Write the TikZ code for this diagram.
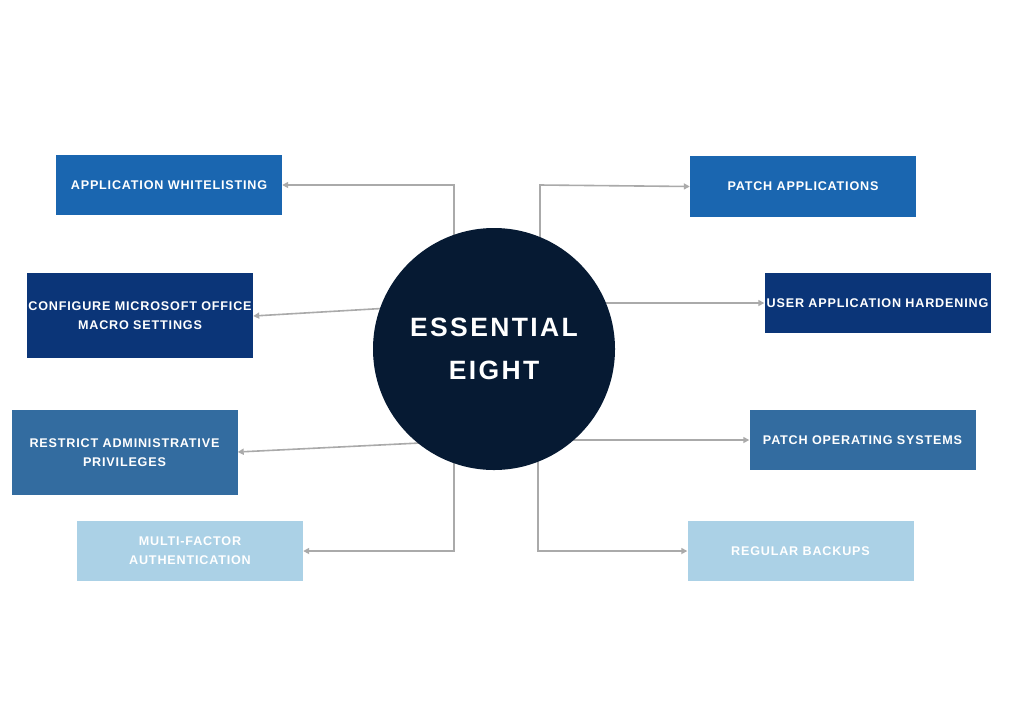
\documentclass[tikz,border=0pt]{standalone}
\usepackage{fontspec}
\setmainfont{Liberation Sans}
\newfontfamily\circfont[LetterSpace=9]{Liberation Sans}
\newfontfamily\boxfont[LetterSpace=6.5]{Liberation Sans}
\usetikzlibrary{arrows.meta}
\definecolor{cmid}{RGB}{26,102,176}
\definecolor{cdark}{RGB}{11,53,120}
\definecolor{cslate}{RGB}{51,108,160}
\definecolor{clight}{RGB}{171,209,230}
\definecolor{cnavy}{RGB}{6,26,51}
\definecolor{cline}{RGB}{170,170,170}
\tikzset{
  ebox/.style={draw=none, minimum width=226pt, inner sep=0pt, align=center,
    text=white, font=\boxfont\bfseries\fontsize{12.6}{19}\selectfont},
  conn/.style={draw=cline, line width=1.6pt, -{Triangle[length=6pt,width=6pt]}},
}
\begin{document}
\begin{tikzpicture}[x=1pt,y=-1pt]
\useasboundingbox[fill=white] (0,0) rectangle (1024,724);
% boxes
\node[ebox, fill=cmid, minimum height=60pt] (aw) at (169,185) {APPLICATION WHITELISTING};
\node[ebox, fill=cdark, minimum height=85pt] (cm) at (140,315.5) {CONFIGURE MICROSOFT OFFICE\\MACRO SETTINGS};
\node[ebox, fill=cslate, minimum height=85pt] (ra) at (124.5,452.5) {RESTRICT ADMINISTRATIVE\\PRIVILEGES};
\node[ebox, fill=clight, minimum height=60pt] (mf) at (190,551) {MULTI-FACTOR\\AUTHENTICATION};
\node[ebox, fill=cmid, minimum height=61pt] (pa) at (803,186.5) {PATCH APPLICATIONS};
\node[ebox, fill=cdark, minimum height=60pt] (ua) at (877.5,303) {USER APPLICATION HARDENING};
\node[ebox, fill=cslate, minimum height=60pt] (po) at (862.5,440) {PATCH OPERATING SYSTEMS};
\node[ebox, fill=clight, minimum height=60pt] (rb) at (800.5,551) {REGULAR BACKUPS};
% connectors (start points hidden under the circle)
\coordinate (s1) at (454,250);
\coordinate (s2) at (390,308);
\coordinate (s3) at (420,443);
\coordinate (s4) at (454,450);
\coordinate (s5) at (540,250);
\coordinate (s6) at (600,303);
\coordinate (s7) at (570,440);
\coordinate (s8) at (538,450);
\coordinate (k5) at (540,185);
\draw[conn] (s1) |- (aw.east);
\draw[conn] (s2) -- (cm.east |- 0,316);
\draw[conn] (s3) -- (ra.east |- 0,452);
\draw[conn] (s4) |- (mf.east);
\draw[conn] (s5) -- (k5) -- (pa.west);
\draw[conn] (s6) -- (ua.west);
\draw[conn] (s7) -- (po.west);
\draw[conn] (s8) |- (rb.west);
% centre
\node[circle, fill=cnavy, minimum size=242pt, inner sep=0pt, text=white, align=center,
  font=\circfont\bfseries\fontsize{26.5}{43}\selectfont] (ee) at (494,349) {ESSENTIAL\\EIGHT};
\end{tikzpicture}
\end{document}
